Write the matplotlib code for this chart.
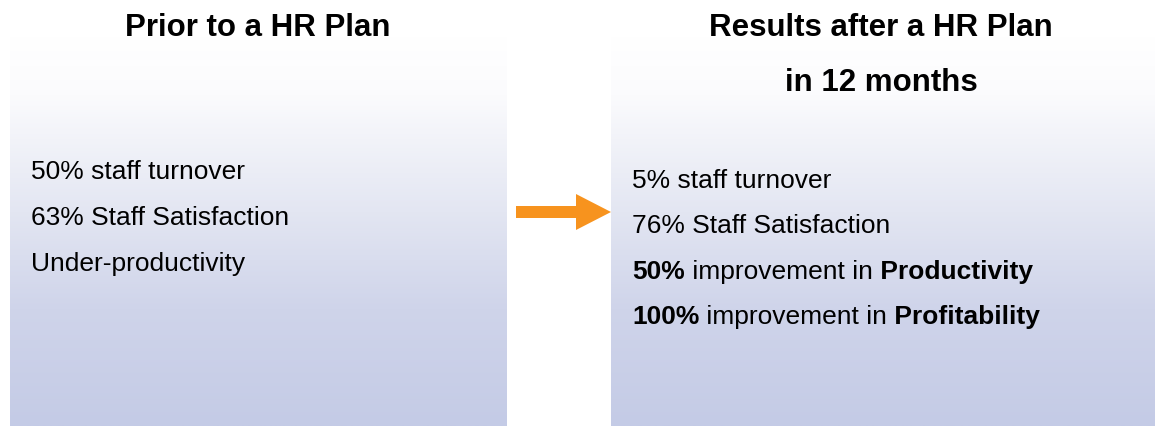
import numpy as np
import matplotlib.pyplot as plt
from matplotlib.colors import LinearSegmentedColormap
from matplotlib.patches import FancyArrow

plt.rcParams['font.family'] = ['Liberation Sans', 'DejaVu Sans']

left_title = ["Prior to a HR Plan"]
right_title = ["Results after a HR Plan", "in 12 months"]

# each line is a list of (text, bold) pieces
left_lines = [
    [("50% staff turnover", False)],
    [("63% Staff Satisfaction", False)],
    [("Under-productivity", False)],
]
right_lines = [
    [("5% staff turnover", False)],
    [("76% Staff Satisfaction", False)],
    [("50%", True), (" improvement in", False), (" Productivity", True)],
    [("100%", True), (" improvement in", False), (" Profitability", True)],
]

W, H = 1160, 427
fig = plt.figure(figsize=(W / 100, H / 100), dpi=100)
ax = fig.add_axes([0, 0, 1, 1])
ax.set_xlim(0, W)
ax.set_ylim(H, 0)
ax.axis("off")

grad = LinearSegmentedColormap.from_list("panel", [
    (0.0, "#ffffff"), (0.15, "#fbfbfd"), (0.45, "#e3e6f2"),
    (0.7, "#cfd4ea"), (1.0, "#c4cbe6")])
ramp = np.linspace(0, 1, 256).reshape(-1, 1)
for x0, x1 in [(10, 507), (611, 1155)]:
    ax.imshow(ramp, cmap=grad, aspect="auto", extent=(x0, x1, H, 37),
              interpolation="bilinear", zorder=0)

for i, t in enumerate(left_title):
    ax.text(258, 36 + i * 55, t, fontsize=22.5, fontweight="bold",
            ha="center", va="baseline")
for i, t in enumerate(right_title):
    ax.text(881, 36 + i * 55, t, fontsize=22.5, fontweight="bold",
            ha="center", va="baseline")

fig.canvas.draw()
renderer = fig.canvas.get_renderer()


def draw_line(x, y, pieces):
    for txt, bold in pieces:
        t = ax.text(x, y, txt, fontsize=19,
                    fontweight="bold" if bold else "normal",
                    ha="left", va="baseline")
        x += t.get_window_extent(renderer).width


for i, pieces in enumerate(left_lines):
    draw_line(31, 179 + i * 46, pieces)
for i, pieces in enumerate(right_lines):
    draw_line(632, 188 + i * 45.5, pieces)

ax.add_patch(FancyArrow(516, 213, 95, 0, width=12, head_width=36,
                        head_length=35, length_includes_head=True,
                        color="#f7931e", lw=0))

fig.savefig("out.png", dpi=100)
